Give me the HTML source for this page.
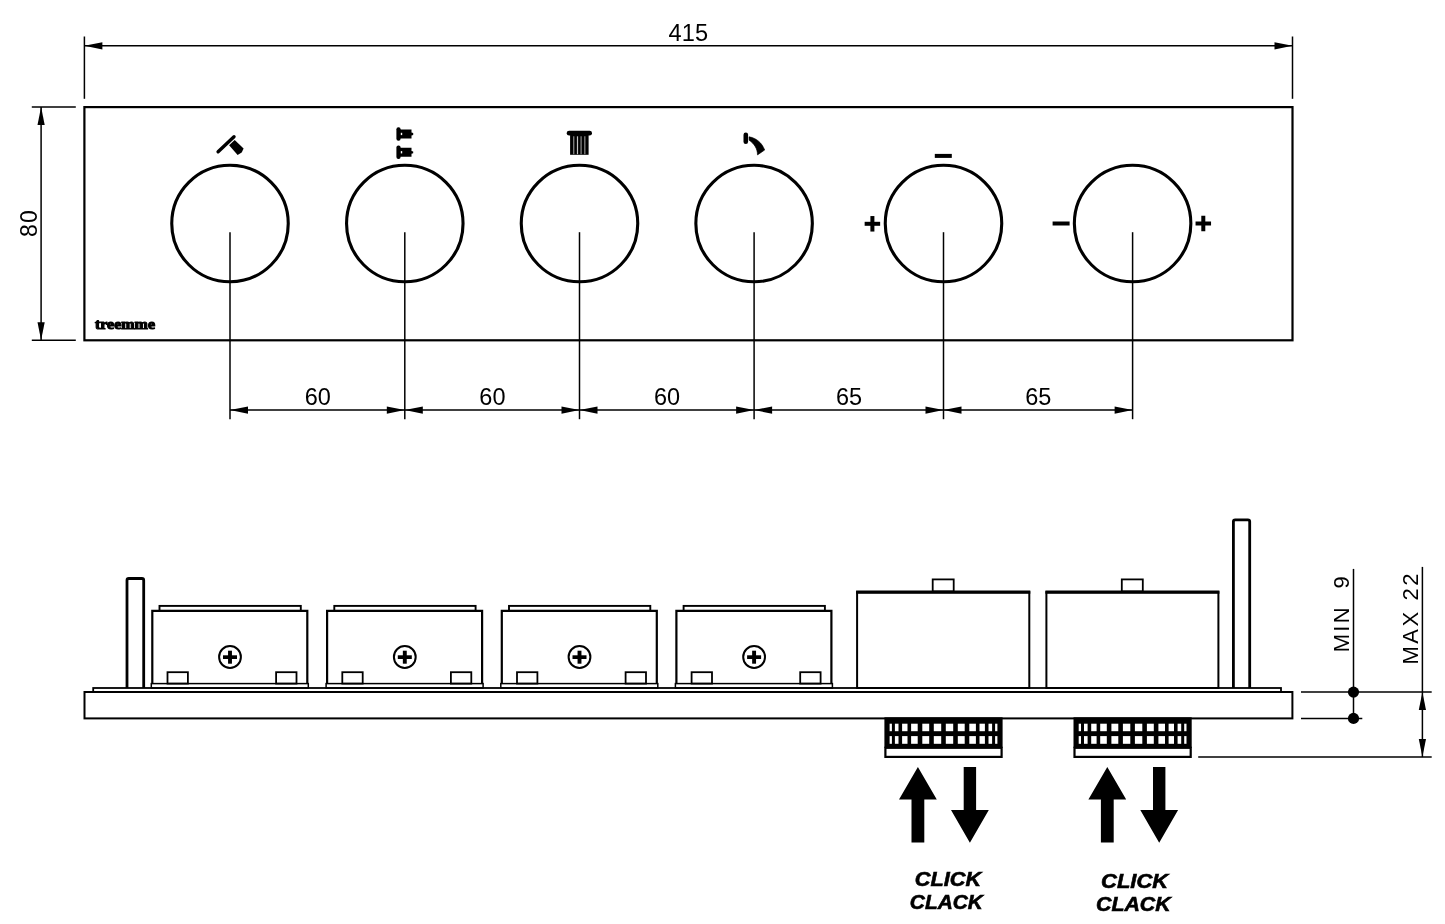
<!DOCTYPE html><html><head><meta charset="utf-8"><style>html,body{margin:0;padding:0;background:#fff}svg{display:block;will-change:transform}text{font-family:"Liberation Sans",sans-serif;fill:#000}</style></head><body>
<svg width="1445" height="924" viewBox="0 0 1445 924">
<rect width="1445" height="924" fill="#fff"/>
<rect x="84.4" y="107.1" width="1208.1" height="233.2" fill="none" stroke="#000" stroke-width="2.2"/>
<line x1="84.4" y1="36.5" x2="84.4" y2="98.8" stroke="#000" stroke-width="1.5"/>
<line x1="1292.5" y1="36.5" x2="1292.5" y2="98.8" stroke="#000" stroke-width="1.5"/>
<line x1="84.4" y1="45.8" x2="1292.5" y2="45.8" stroke="#000" stroke-width="1.5"/>
<polygon points="84.4,45.8 102.4,42.199999999999996 102.4,49.4" fill="#000"/>
<polygon points="1292.5,45.8 1274.5,42.199999999999996 1274.5,49.4" fill="#000"/>
<text x="688.4" y="40.9" font-size="23.6" text-anchor="middle" letter-spacing="0.2">415</text>
<line x1="31.8" y1="107.1" x2="75.8" y2="107.1" stroke="#000" stroke-width="1.5"/>
<line x1="31.8" y1="340.3" x2="75.8" y2="340.3" stroke="#000" stroke-width="1.5"/>
<line x1="41.1" y1="107.1" x2="41.1" y2="340.3" stroke="#000" stroke-width="1.5"/>
<polygon points="41.1,107.1 37.5,125.1 44.7,125.1" fill="#000"/>
<polygon points="41.1,340.3 37.5,322.3 44.7,322.3" fill="#000"/>
<text transform="translate(36.7,223.0) rotate(-90)" font-size="23" text-anchor="middle" letter-spacing="1.3">80</text>
<circle cx="230.0" cy="223.55" r="58.25" fill="none" stroke="#000" stroke-width="3.1"/>
<line x1="230.0" y1="232.2" x2="230.0" y2="419.2" stroke="#000" stroke-width="1.5"/>
<circle cx="404.8" cy="223.55" r="58.25" fill="none" stroke="#000" stroke-width="3.1"/>
<line x1="404.8" y1="232.2" x2="404.8" y2="419.2" stroke="#000" stroke-width="1.5"/>
<circle cx="579.5" cy="223.55" r="58.25" fill="none" stroke="#000" stroke-width="3.1"/>
<line x1="579.5" y1="232.2" x2="579.5" y2="419.2" stroke="#000" stroke-width="1.5"/>
<circle cx="754.1" cy="223.55" r="58.25" fill="none" stroke="#000" stroke-width="3.1"/>
<line x1="754.1" y1="232.2" x2="754.1" y2="419.2" stroke="#000" stroke-width="1.5"/>
<circle cx="943.5" cy="223.55" r="58.25" fill="none" stroke="#000" stroke-width="3.1"/>
<line x1="943.5" y1="232.2" x2="943.5" y2="419.2" stroke="#000" stroke-width="1.5"/>
<circle cx="1132.6" cy="223.55" r="58.25" fill="none" stroke="#000" stroke-width="3.1"/>
<line x1="1132.6" y1="232.2" x2="1132.6" y2="419.2" stroke="#000" stroke-width="1.5"/>
<line x1="230.0" y1="410.1" x2="1132.6" y2="410.1" stroke="#000" stroke-width="1.5"/>
<polygon points="230.0,410.1 248.0,406.5 248.0,413.70000000000005" fill="#000"/>
<polygon points="404.8,410.1 386.8,406.5 386.8,413.70000000000005" fill="#000"/>
<text x="317.7" y="405.3" font-size="23.5" text-anchor="middle">60</text>
<polygon points="404.8,410.1 422.8,406.5 422.8,413.70000000000005" fill="#000"/>
<polygon points="579.5,410.1 561.5,406.5 561.5,413.70000000000005" fill="#000"/>
<text x="492.4" y="405.3" font-size="23.5" text-anchor="middle">60</text>
<polygon points="579.5,410.1 597.5,406.5 597.5,413.70000000000005" fill="#000"/>
<polygon points="754.1,410.1 736.1,406.5 736.1,413.70000000000005" fill="#000"/>
<text x="667.1" y="405.3" font-size="23.5" text-anchor="middle">60</text>
<polygon points="754.1,410.1 772.1,406.5 772.1,413.70000000000005" fill="#000"/>
<polygon points="943.5,410.1 925.5,406.5 925.5,413.70000000000005" fill="#000"/>
<text x="849.1" y="405.3" font-size="23.5" text-anchor="middle">65</text>
<polygon points="943.5,410.1 961.5,406.5 961.5,413.70000000000005" fill="#000"/>
<polygon points="1132.6,410.1 1114.6,406.5 1114.6,413.70000000000005" fill="#000"/>
<text x="1038.3" y="405.3" font-size="23.5" text-anchor="middle">65</text>
<text x="95" y="328.6" font-size="14.2" style="font-family:'Liberation Serif',serif;font-weight:bold" stroke="#000" stroke-width="1.1" stroke-linejoin="round" textLength="60" lengthAdjust="spacingAndGlyphs">treemme</text>
<line x1="218.1" y1="151.8" x2="234.0" y2="136.7" stroke="#000" stroke-width="3.4" stroke-linecap="round"/>
<polygon points="229.1,145.3 234.7,140.0 243.6,148.4 241.7,152.5 237.6,155" fill="#000"/>
<rect x="396.4" y="127.3" width="4.2" height="13.4" rx="2" fill="#000"/>
<path d="M400,129.5 L411.5,129.5 L411.5,132.6 L413.2,133.1 L413.2,134.9 L411.5,135.4 L411.5,138.5 L400,138.5 Z" fill="#000"/>
<rect x="400.8" y="132.8" width="1.4" height="2.3" fill="#fff"/>
<rect x="396.4" y="145.6" width="4.2" height="13.4" rx="2" fill="#000"/>
<path d="M400,147.79999999999998 L411.5,147.79999999999998 L411.5,150.9 L413.2,151.4 L413.2,153.2 L411.5,153.7 L411.5,156.79999999999998 L400,156.79999999999998 Z" fill="#000"/>
<rect x="400.8" y="151.1" width="1.4" height="2.3" fill="#fff"/>
<rect x="566.7" y="130.7" width="25.3" height="4.9" rx="2.4" fill="#000"/>
<rect x="570.1" y="135" width="18.5" height="19.8" fill="#000"/>
<line x1="573.7" y1="136.3" x2="573.7" y2="154.2" stroke="#7a7a7a" stroke-width="1.4"/>
<line x1="581.1" y1="136.3" x2="581.1" y2="154.2" stroke="#7a7a7a" stroke-width="1.4"/>
<line x1="584.8" y1="136.3" x2="584.8" y2="154.2" stroke="#7a7a7a" stroke-width="1.4"/>
<line x1="577.5" y1="136.3" x2="577.5" y2="154.2" stroke="#c4c4c4" stroke-width="1.2"/>
<rect x="743.5" y="132.4" width="4.6" height="11.7" rx="2.3" fill="#000"/>
<path d="M749,136.8 C756.5,138 762,143 764.7,150 L757.5,154.9 C757.5,148.5 754,143.5 749.1,140.2 Z" fill="#000" stroke="#000" stroke-width="0.6" stroke-linejoin="round"/>
<rect x="934.8" y="153.9" width="17" height="4" fill="#000"/>
<rect x="864.65" y="221.8" width="15.5" height="4" fill="#000"/>
<rect x="870.4" y="216.05" width="4" height="15.5" fill="#000"/>
<rect x="1052.6" y="221.5" width="17" height="4" fill="#000"/>
<rect x="1195.55" y="221.5" width="15.5" height="4" fill="#000"/>
<rect x="1201.3" y="215.75" width="4" height="15.5" fill="#000"/>
<rect x="93.2" y="688.0" width="1187.8" height="4.0" fill="none" stroke="#000" stroke-width="1.8"/>
<rect x="84.5" y="692.0" width="1207.9" height="26.4" fill="none" stroke="#000" stroke-width="2.0"/>
<path d="M127.0,688 L127.0,580.3 Q127.0,578.5 128.8,578.5 L141.89999999999998,578.5 Q143.7,578.5 143.7,580.3 L143.7,688" fill="none" stroke="#000" stroke-width="2.8"/>
<path d="M1233.4,688 L1233.4,521.5999999999999 Q1233.4,519.8 1235.2,519.8 L1247.8999999999999,519.8 Q1249.6999999999998,519.8 1249.6999999999998,521.5999999999999 L1249.6999999999998,688" fill="none" stroke="#000" stroke-width="2.8"/>
<rect x="159.5" y="605.9" width="141.3" height="5.0" fill="none" stroke="#000" stroke-width="1.9"/>
<path d="M152.3,683.6 L152.3,610.9 L307.3,610.9 L307.3,683.6" fill="none" stroke="#000" stroke-width="2.2"/>
<rect x="151.3" y="683.6" width="157.0" height="4.4" fill="none" stroke="#000" stroke-width="1.5"/>
<rect x="167.5" y="672.2" width="20.4" height="11.4" fill="none" stroke="#000" stroke-width="1.8"/>
<rect x="276.1" y="672.2" width="20.4" height="11.4" fill="none" stroke="#000" stroke-width="1.8"/>
<circle cx="230.0" cy="657" r="10.9" fill="none" stroke="#000" stroke-width="2"/>
<rect x="223.0" y="655.3" width="14" height="3.7" fill="#000"/>
<rect x="228.05" y="650.7" width="3.9" height="13" fill="#000"/>
<rect x="334.3" y="605.9" width="141.3" height="5.0" fill="none" stroke="#000" stroke-width="1.9"/>
<path d="M327.1,683.6 L327.1,610.9 L482.1,610.9 L482.1,683.6" fill="none" stroke="#000" stroke-width="2.2"/>
<rect x="326.1" y="683.6" width="157.0" height="4.4" fill="none" stroke="#000" stroke-width="1.5"/>
<rect x="342.3" y="672.2" width="20.4" height="11.4" fill="none" stroke="#000" stroke-width="1.8"/>
<rect x="450.90000000000003" y="672.2" width="20.4" height="11.4" fill="none" stroke="#000" stroke-width="1.8"/>
<circle cx="404.8" cy="657" r="10.9" fill="none" stroke="#000" stroke-width="2"/>
<rect x="397.8" y="655.3" width="14" height="3.7" fill="#000"/>
<rect x="402.85" y="650.7" width="3.9" height="13" fill="#000"/>
<rect x="509.0" y="605.9" width="141.3" height="5.0" fill="none" stroke="#000" stroke-width="1.9"/>
<path d="M501.8,683.6 L501.8,610.9 L656.8,610.9 L656.8,683.6" fill="none" stroke="#000" stroke-width="2.2"/>
<rect x="500.8" y="683.6" width="157.0" height="4.4" fill="none" stroke="#000" stroke-width="1.5"/>
<rect x="517.0" y="672.2" width="20.4" height="11.4" fill="none" stroke="#000" stroke-width="1.8"/>
<rect x="625.6" y="672.2" width="20.4" height="11.4" fill="none" stroke="#000" stroke-width="1.8"/>
<circle cx="579.5" cy="657" r="10.9" fill="none" stroke="#000" stroke-width="2"/>
<rect x="572.5" y="655.3" width="14" height="3.7" fill="#000"/>
<rect x="577.55" y="650.7" width="3.9" height="13" fill="#000"/>
<rect x="683.6" y="605.9" width="141.3" height="5.0" fill="none" stroke="#000" stroke-width="1.9"/>
<path d="M676.4,683.6 L676.4,610.9 L831.4,610.9 L831.4,683.6" fill="none" stroke="#000" stroke-width="2.2"/>
<rect x="675.4" y="683.6" width="157.0" height="4.4" fill="none" stroke="#000" stroke-width="1.5"/>
<rect x="691.6" y="672.2" width="20.4" height="11.4" fill="none" stroke="#000" stroke-width="1.8"/>
<rect x="800.2" y="672.2" width="20.4" height="11.4" fill="none" stroke="#000" stroke-width="1.8"/>
<circle cx="754.1" cy="657" r="10.9" fill="none" stroke="#000" stroke-width="2"/>
<rect x="747.1" y="655.3" width="14" height="3.7" fill="#000"/>
<rect x="752.15" y="650.7" width="3.9" height="13" fill="#000"/>
<rect x="932.7" y="579.4" width="21.0" height="12.1" fill="none" stroke="#000" stroke-width="1.8"/>
<rect x="857.1" y="592.2" width="172.2" height="95.8" fill="none" stroke="#000" stroke-width="2.0"/>
<line x1="856.1" y1="592.2" x2="1030.3" y2="592.2" stroke="#000" stroke-width="3.2"/>
<rect x="1121.8" y="579.4" width="21.0" height="12.1" fill="none" stroke="#000" stroke-width="1.8"/>
<rect x="1046.4" y="592.2" width="172.0" height="95.8" fill="none" stroke="#000" stroke-width="2.0"/>
<line x1="1045.4" y1="592.2" x2="1219.3999999999999" y2="592.2" stroke="#000" stroke-width="3.2"/>
<rect x="884.4" y="717.3" width="118.2" height="30.6" fill="#000"/>
<rect x="885.4" y="747.8" width="116.2" height="9.1" fill="#fff" stroke="#000" stroke-width="2.2"/>
<rect x="945.8" y="723.7" width="7.4" height="7.5" fill="#fff"/>
<rect x="933.8" y="723.7" width="7.4" height="7.5" fill="#fff"/>
<rect x="945.8" y="736.1" width="7.4" height="7.7" fill="#fff"/>
<rect x="933.8" y="736.1" width="7.4" height="7.7" fill="#fff"/>
<rect x="957.8" y="723.7" width="6.9" height="7.5" fill="#fff"/>
<rect x="922.3" y="723.7" width="6.9" height="7.5" fill="#fff"/>
<rect x="957.8" y="736.1" width="6.9" height="7.7" fill="#fff"/>
<rect x="922.3" y="736.1" width="6.9" height="7.7" fill="#fff"/>
<rect x="969.3" y="723.7" width="6.6" height="7.5" fill="#fff"/>
<rect x="911.1" y="723.7" width="6.6" height="7.5" fill="#fff"/>
<rect x="969.3" y="736.1" width="6.6" height="7.7" fill="#fff"/>
<rect x="911.1" y="736.1" width="6.6" height="7.7" fill="#fff"/>
<rect x="979.5" y="723.7" width="5.4" height="7.5" fill="#fff"/>
<rect x="902.1" y="723.7" width="5.4" height="7.5" fill="#fff"/>
<rect x="979.5" y="736.1" width="5.4" height="7.7" fill="#fff"/>
<rect x="902.1" y="736.1" width="5.4" height="7.7" fill="#fff"/>
<rect x="988.5" y="723.7" width="3.6" height="7.5" fill="#fff"/>
<rect x="894.9" y="723.7" width="3.6" height="7.5" fill="#fff"/>
<rect x="988.5" y="736.1" width="3.6" height="7.7" fill="#fff"/>
<rect x="894.9" y="736.1" width="3.6" height="7.7" fill="#fff"/>
<rect x="995.1" y="723.7" width="2.3" height="7.5" fill="#fff"/>
<rect x="889.6" y="723.7" width="2.3" height="7.5" fill="#fff"/>
<rect x="995.1" y="736.1" width="2.3" height="7.7" fill="#fff"/>
<rect x="889.6" y="736.1" width="2.3" height="7.7" fill="#fff"/>
<rect x="1073.5" y="717.3" width="118.2" height="30.6" fill="#000"/>
<rect x="1074.5" y="747.8" width="116.2" height="9.1" fill="#fff" stroke="#000" stroke-width="2.2"/>
<rect x="1134.8999999999999" y="723.7" width="7.4" height="7.5" fill="#fff"/>
<rect x="1122.9" y="723.7" width="7.4" height="7.5" fill="#fff"/>
<rect x="1134.8999999999999" y="736.1" width="7.4" height="7.7" fill="#fff"/>
<rect x="1122.9" y="736.1" width="7.4" height="7.7" fill="#fff"/>
<rect x="1146.8999999999999" y="723.7" width="6.9" height="7.5" fill="#fff"/>
<rect x="1111.4" y="723.7" width="6.9" height="7.5" fill="#fff"/>
<rect x="1146.8999999999999" y="736.1" width="6.9" height="7.7" fill="#fff"/>
<rect x="1111.4" y="736.1" width="6.9" height="7.7" fill="#fff"/>
<rect x="1158.3999999999999" y="723.7" width="6.6" height="7.5" fill="#fff"/>
<rect x="1100.2" y="723.7" width="6.6" height="7.5" fill="#fff"/>
<rect x="1158.3999999999999" y="736.1" width="6.6" height="7.7" fill="#fff"/>
<rect x="1100.2" y="736.1" width="6.6" height="7.7" fill="#fff"/>
<rect x="1168.6" y="723.7" width="5.4" height="7.5" fill="#fff"/>
<rect x="1091.2" y="723.7" width="5.4" height="7.5" fill="#fff"/>
<rect x="1168.6" y="736.1" width="5.4" height="7.7" fill="#fff"/>
<rect x="1091.2" y="736.1" width="5.4" height="7.7" fill="#fff"/>
<rect x="1177.6" y="723.7" width="3.6" height="7.5" fill="#fff"/>
<rect x="1084.0" y="723.7" width="3.6" height="7.5" fill="#fff"/>
<rect x="1177.6" y="736.1" width="3.6" height="7.7" fill="#fff"/>
<rect x="1084.0" y="736.1" width="3.6" height="7.7" fill="#fff"/>
<rect x="1184.1999999999998" y="723.7" width="2.3" height="7.5" fill="#fff"/>
<rect x="1078.7" y="723.7" width="2.3" height="7.5" fill="#fff"/>
<rect x="1184.1999999999998" y="736.1" width="2.3" height="7.7" fill="#fff"/>
<rect x="1078.7" y="736.1" width="2.3" height="7.7" fill="#fff"/>
<polygon points="917.9,766.9 936.8,799.5 924.3,799.5 924.3,842.6 911.5,842.6 911.5,799.5 899.0,799.5" fill="#000"/>
<polygon points="963.6999999999999,767.1 976.1,767.1 976.1,810 988.8,810 969.9,842.8 951.0,810 963.6999999999999,810" fill="#000"/>
<polygon points="1107.3,766.9 1126.2,799.5 1113.7,799.5 1113.7,842.6 1100.8999999999999,842.6 1100.8999999999999,799.5 1088.3999999999999,799.5" fill="#000"/>
<polygon points="1153.0,767.1 1165.4,767.1 1165.4,810 1178.1000000000001,810 1159.2,842.8 1140.3,810 1153.0,810" fill="#000"/>
<text x="914.8" y="886.4" font-size="20.3" font-weight="bold" font-style="italic" stroke="#000" stroke-width="0.6" textLength="66.4" lengthAdjust="spacingAndGlyphs">CLICK</text>
<text x="909.8" y="908.9" font-size="20.3" font-weight="bold" font-style="italic" stroke="#000" stroke-width="0.6" textLength="73.1" lengthAdjust="spacingAndGlyphs">CLACK</text>
<text x="1101" y="887.9" font-size="20.3" font-weight="bold" font-style="italic" stroke="#000" stroke-width="0.6" textLength="67.2" lengthAdjust="spacingAndGlyphs">CLICK</text>
<text x="1096" y="911.4" font-size="20.3" font-weight="bold" font-style="italic" stroke="#000" stroke-width="0.6" textLength="74.7" lengthAdjust="spacingAndGlyphs">CLACK</text>
<line x1="1301" y1="692.1" x2="1431.7" y2="692.1" stroke="#000" stroke-width="1.5"/>
<line x1="1301" y1="718.4" x2="1362.3" y2="718.4" stroke="#000" stroke-width="1.5"/>
<line x1="1198.2" y1="757.1" x2="1431.7" y2="757.1" stroke="#000" stroke-width="1.5"/>
<line x1="1353.5" y1="568.9" x2="1353.5" y2="718.4" stroke="#000" stroke-width="1.5"/>
<line x1="1422.4" y1="566.9" x2="1422.4" y2="757.1" stroke="#000" stroke-width="1.5"/>
<circle cx="1353.5" cy="692.1" r="5.6" fill="#000"/><circle cx="1353.5" cy="718.4" r="5.6" fill="#000"/>
<polygon points="1422.4,692.1 1418.8000000000002,710.1 1426.0,710.1" fill="#000"/>
<polygon points="1422.4,757.1 1418.8000000000002,739.1 1426.0,739.1" fill="#000"/>
<text transform="translate(1349.3,652.2) rotate(-90)" font-size="22" xml:space="preserve" textLength="75.9" lengthAdjust="spacing">MIN  9</text>
<text transform="translate(1418.2,664.5) rotate(-90)" font-size="22" xml:space="preserve" textLength="91" lengthAdjust="spacing">MAX 22</text>
</svg></body></html>
